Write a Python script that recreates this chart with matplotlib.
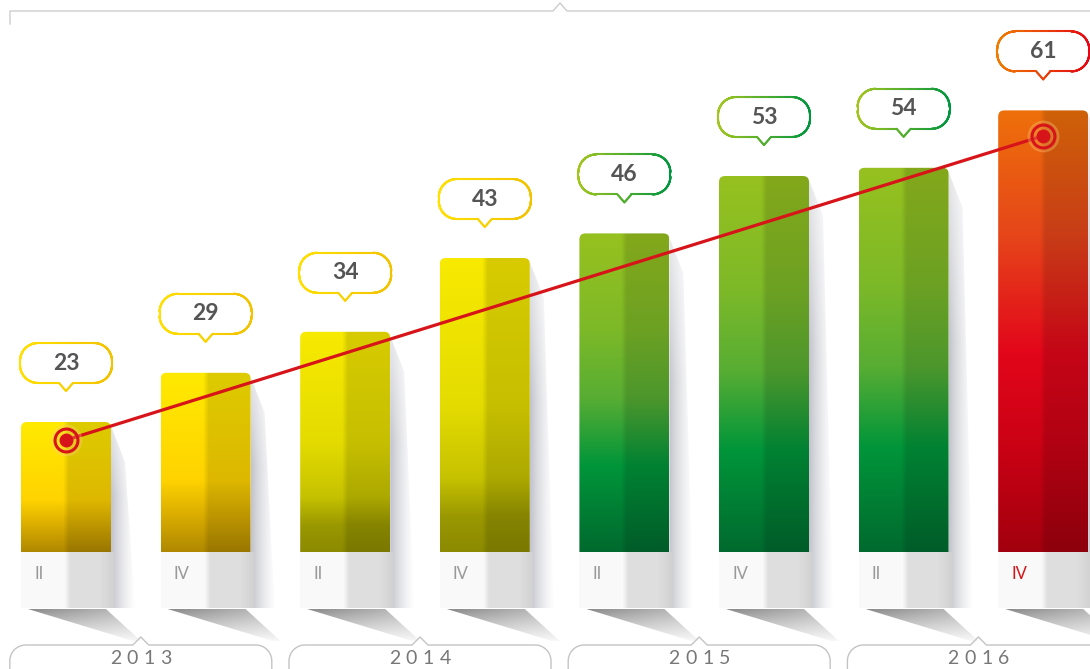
import numpy as np
import matplotlib
matplotlib.use("Agg")
import matplotlib.pyplot as plt
import matplotlib.transforms as mtransforms
from matplotlib.patches import FancyBboxPatch, Polygon
from matplotlib.collections import LineCollection
from matplotlib.colors import to_rgb

# data
quarters = ["II", "IV", "II", "IV", "II", "IV", "II", "IV"]
values = [23, 29, 34, 43, 46, 53, 54, 61]
years = ["2013", "2014", "2015", "2016"]
trend = [20.8, 57.9]   # red line, first bar -> last bar

# colour stops (top -> bottom) for each bar
gold = [(0, "#FFEA00"), (0.6, "#FFD300"), (0.78, "#DDB000"), (1, "#B08800")]
olive = [(0, "#F8EA00"), (0.5, "#E4DC00"), (0.75, "#C6C200"), (0.88, "#9A9800"), (1, "#8C8A00")]
green = [(0, "#97C11F"), (0.3, "#7DB928"), (0.52, "#57AD33"), (0.73, "#00953A"), (1, "#006A2E")]
red = [(0, "#EE700A"), (0.28, "#E6461A"), (0.55, "#E2061A"), (0.75, "#CC0215"), (1, "#A2000E")]
bar_stops = [gold, gold, olive, olive, green, green, green, red]
bubble_cols = [("#FFE000", "#F2C300")] * 4 + [("#A3C61E", "#00963F")] * 3 + [("#F07D00", "#E30613")]

W, H, DPI = 1090, 669, 100
PX_X = 1 / 139.6          # x data units per pixel
PX_Y = 1 / 8.2            # y data units per pixel
BASE = 23 - 130 * PX_Y    # value at the bar baseline
RED = "#D7141A"


def ypx(py):
    # picture pixel row -> data y
    return 23 + (422 - py) * PX_Y


def vgrad(stops, n=256):
    pos = np.array([s[0] for s in stops])
    cols = np.array([to_rgb(s[1]) for s in stops])
    t = np.linspace(0, 1, n)
    return np.stack([np.interp(t, pos, cols[:, k]) for k in range(3)], axis=1)


def bar_image(stops):
    col = vgrad(stops)
    u = np.linspace(0, 1, 120)
    shade = 1 - 0.13 * np.clip((u - 0.47) / 0.06, 0, 1)
    return np.clip(col[:, None, :] * shade[None, :, None], 0, 1)


def clipped_image(ax, img, extent, clip, zorder):
    ax.add_patch(clip)
    im = ax.imshow(img, extent=extent, aspect="auto", zorder=zorder,
                   interpolation="bilinear")
    im.set_clip_path(clip)


fig = plt.figure(figsize=(W / DPI, H / DPI), dpi=DPI)
ax = fig.add_axes([0, 0, 1, 1])
xlim = (-66 * PX_X, (W - 66) * PX_X)
ylim = (ypx(H), ypx(0))
ax.set_xlim(*xlim)
ax.set_ylim(*ylim)
ax.axis("off")

x = np.arange(len(values))
bars = ax.bar(x, np.array(values) - BASE, bottom=BASE, width=90 * PX_X,
              color="none", edgecolor="none")

u = np.linspace(0, 1, 100)
for i, (rect, stops) in enumerate(zip(bars, bar_stops)):
    L = rect.get_x()
    w = rect.get_width()
    R = L + w
    top = rect.get_y() + rect.get_height()

    # side shadow
    sh = np.zeros((50, 100, 4))
    v = np.linspace(0, 1, 50)[:, None]
    sh[..., :3] = (0.60, 0.61, 0.66)
    sh[..., 3] = (0.6 * (1 - u) ** 1.5)[None, :] * np.clip(0.4 + v * 1.5, 0, 1)
    verts = [(R, top - 4 * PX_Y), (R + 14 * PX_X, top - 40 * PX_Y),
             (R + 24 * PX_X, ypx(608)), (R, ypx(608))]
    clipped_image(ax, sh, (R, R + 26 * PX_X, ypx(608), top),
                  Polygon(verts, closed=True, fc="none", ec="none"), 1)

    # base panel under the bar
    pn = np.ones((2, 100, 3))
    k = 1 - 0.11 * np.clip((u - 0.47) / 0.06, 0, 1) - 0.05 * np.clip((u - 0.85) / 0.15, 0, 1)
    pn[:] = (0.98 * k)[None, :, None]
    verts = [(L, BASE), (R + 3 * PX_X, BASE), (R + 3 * PX_X, ypx(608)), (L, ypx(608))]
    clipped_image(ax, pn, (L, R + 3 * PX_X, ypx(608), BASE),
                  Polygon(verts, closed=True, fc="none", ec="none"), 1.5)

    # folded shadow below
    tr = np.zeros((40, 100, 4))
    tr[..., :3] = 0.42
    tr[..., 3] = np.clip(0.8 - 0.7 * np.linspace(0, 1, 40)[:, None], 0, 1) \
        * (1 - 0.5 * u)[None, :]
    verts = [(L + 7 * PX_X, ypx(609)), (R - 5 * PX_X, ypx(609)),
             (R + 30 * PX_X, ypx(641)), (R + 22 * PX_X, ypx(641))]
    clipped_image(ax, tr, (L + 7 * PX_X, R + 30 * PX_X, ypx(641), ypx(609)),
                  Polygon(verts, closed=True, fc="none", ec="none"), 1.2)

    # bar body
    clip = FancyBboxPatch((L, BASE - 2), w, top - BASE + 2,
                          boxstyle="round,pad=0,rounding_size=%f" % (6 * PX_X),
                          mutation_aspect=PX_Y / PX_X, fc="none", ec="none")
    clipped_image(ax, bar_image(stops), (L, R, BASE, top), clip, 2)

    # quarter label
    ax.text(L + 13 * PX_X, ypx(574), quarters[i], ha="left", va="center",
            fontsize=12, family="Lato",
            color=RED if i == len(values) - 1 else "#999999", zorder=4)


# bubble outline (pixel units relative to bar-top centre, y up)
def bubble_outline(w=92, h=40, r=18, tip_w=7, tip_h=8, gap=39):
    y0, y1, hw = gap, gap + h, w / 2

    def arc(cx, cy, a0, a1, n=16):
        a = np.radians(np.linspace(a0, a1, n))
        return list(zip(cx + r * np.cos(a), cy + r * np.sin(a)))

    pts = [(0, y0 - tip_h), (tip_w, y0)]
    pts += arc(hw - r, y0 + r, -90, 0)
    pts += arc(hw - r, y1 - r, 0, 90)
    pts += arc(-hw + r, y1 - r, 90, 180)
    pts += arc(-hw + r, y0 + r, 180, 270)
    pts += [(-tip_w, y0), (0, y0 - tip_h)]
    pts = np.array(pts)
    dense = [pts[0]]
    for a, b in zip(pts[:-1], pts[1:]):
        for t in np.linspace(0, 1, 8)[1:]:
            dense.append(a + (b - a) * t)
    return np.array(dense)


outline = bubble_outline()
for i, rect in enumerate(bars):
    xc = rect.get_x() + rect.get_width() / 2
    top = rect.get_y() + rect.get_height()
    trans = mtransforms.ScaledTranslation(xc, top, ax.transData)
    ax.add_patch(Polygon(outline, closed=True, fc="white", ec="none",
                         transform=trans, zorder=7))
    segs = np.stack([outline[:-1], outline[1:]], axis=1)
    c0, c1 = np.array(to_rgb(bubble_cols[i][0])), np.array(to_rgb(bubble_cols[i][1]))
    t = np.clip((segs[:, :, 0].mean(axis=1) + 46) / 92, 0, 1)[:, None]
    lc = LineCollection(segs, colors=c0 + (c1 - c0) * t, linewidths=1.5,
                        transform=trans, zorder=8, capstyle="round")
    ax.add_collection(lc, autolim=False)
    ax.annotate(str(values[i]), xy=(xc, top), xytext=(0, 59),
                textcoords="offset pixels", ha="center", va="center",
                fontsize=16.5, family="Lato", weight="bold", color="#555555",
                zorder=9)

# trend line
ends = [x[0], x[-1]]
ax.plot(ends, trend, color=RED, lw=2.3, zorder=5, solid_capstyle="round")
ax.plot(ends, trend, "o", ms=22, color="#FFD080", alpha=0.25, zorder=5.5)
ax.plot(ends, trend, "o", ms=16.5, mfc="none", mec=RED, mew=2.2, zorder=6)
ax.plot(ends, trend, "o", ms=10, mfc=RED, mec="none", zorder=6)

# year boxes
box = []
hw, r = 131, 16
def arc(cx, cy, a0, a1, n=14):
    a = np.radians(np.linspace(a0, a1, n))
    return list(zip(cx + r * np.cos(a), cy + r * np.sin(a)))
box += [(hw, -40)]
box += arc(hw - r, -r, 0, 90)
box += [(8, 0), (0, 8), (-8, 0)]
box += arc(-hw + r, -r, 90, 180)
box += [(-hw, -40)]
box = np.array(box)
for j, yr in enumerate(years):
    xc = (x[2 * j] + x[2 * j + 1]) / 2 + 5 * PX_X
    trans = mtransforms.ScaledTranslation(xc, ypx(645), ax.transData)
    ax.plot(box[:, 0], box[:, 1], color="#C4C4C4", lw=1.0, transform=trans,
            zorder=3)
    for k, ch in enumerate(yr):
        ax.annotate(ch, xy=(xc, ypx(659)), xytext=((k - 1.5) * 17, 0),
                    textcoords="offset pixels", ha="center", va="center",
                    fontsize=14, family="Lato", color="#777777", zorder=4)

# top bracket
pix = mtransforms.Affine2D().scale(1, -1).translate(0, H)
ax.plot([10, 10, 553, 560, 567, 1090], [24, 11, 11, 3, 11, 11],
        color="#CDCDCD", lw=1.0, transform=pix, zorder=3)

ax.set_xlim(*xlim)
ax.set_ylim(*ylim)
fig.savefig("out.png", dpi=DPI, facecolor="white")
